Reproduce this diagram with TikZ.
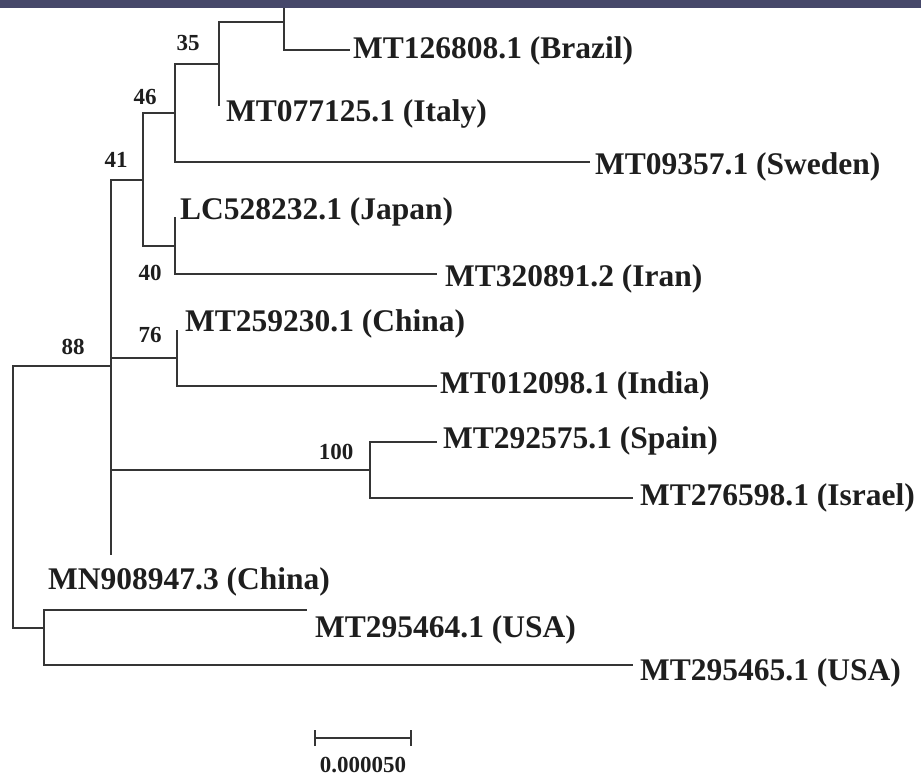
\documentclass[tikz,border=0pt]{standalone}
\usepackage{fontspec}
\setmainfont{Liberation Serif}
\definecolor{topbar}{RGB}{70,72,106}
\definecolor{ink}{RGB}{30,30,30}
\begin{document}
\begin{tikzpicture}[x=1pt,y=-1pt,
  br/.style={line width=2pt, draw=ink!90},
  leaf/.style={anchor=base west, inner sep=0pt, text=ink, font=\fontsize{31.5}{32}\selectfont\bfseries},
  boot/.style={inner sep=0pt, text=ink, font=\fontsize{23}{24}\selectfont\bfseries}]
\useasboundingbox (0,0) rectangle (921,777);
\fill[topbar] (0,0) rectangle (921,8);

% internal nodes (x of own vertical, y of incoming branch)
\coordinate (root) at (13,497);
\coordinate (n88) at (111,366);
\coordinate (nU) at (44,628);
\coordinate (n41) at (143,180);
\coordinate (n46) at (175,113);
\coordinate (n35) at (219,64);
\coordinate (nB) at (284,22);
\coordinate (n40) at (175,246);
\coordinate (n76) at (177,358);
\coordinate (n100) at (370,470);
% branch tips
\coordinate (tTop) at (284,8);
\coordinate (tBrazil) at (350,50);
\coordinate (tItaly) at (219,106);
\coordinate (tSweden) at (590,162);
\coordinate (tJapan) at (175,217);
\coordinate (tIran) at (437,274);
\coordinate (tChina) at (177,330);
\coordinate (tIndia) at (437,386);
\coordinate (tSpain) at (437,442);
\coordinate (tIsrael) at (633,498);
\coordinate (tMN) at (111,555);
\coordinate (tUSA1) at (307,610);
\coordinate (tUSA2) at (633,665);

% leaf labels
\node[leaf] (lBrazil) at (353,58) {MT126808.1 (Brazil)};
\node[leaf] (lItaly) at (226,121) {MT077125.1 (Italy)};
\node[leaf] (lSweden) at (595,174) {MT09357.1 (Sweden)};
\node[leaf] (lJapan) at (180,219) {LC528232.1 (Japan)};
\node[leaf] (lIran) at (445,286) {MT320891.2 (Iran)};
\node[leaf] (lChina) at (185,331) {MT259230.1 (China)};
\node[leaf] (lIndia) at (440,393) {MT012098.1 (India)};
\node[leaf] (lSpain) at (443,448) {MT292575.1 (Spain)};
\node[leaf] (lIsrael) at (640,505) {MT276598.1 (Israel)};
\node[leaf] (lMN) at (48,589) {MN908947.3 (China)};
\node[leaf] (lUSA1) at (315,637) {MT295464.1 (USA)};
\node[leaf] (lUSA2) at (640,680) {MT295465.1 (USA)};

% bootstrap values
\node[boot] (b35) at (188,43) {35};
\node[boot] (b46) at (145,97) {46};
\node[boot] (b41) at (116,160) {41};
\node[boot] (b40) at (150,273) {40};
\node[boot] (b76) at (150,335) {76};
\node[boot] (b88) at (73,347) {88};
\node[boot] (b100) at (336,452) {100};

% branches
\draw[br] (root) |- (n88);
\draw[br] (root) |- (nU);
\draw[br] (n88) |- (n41);
\draw[br] (n88) |- (n76);
\draw[br] (n88) |- (n100);
\draw[br] (n88) -- (tMN);
\draw[br] (n41) |- (n46);
\draw[br] (n41) |- (n40);
\draw[br] (n46) |- (n35);
\draw[br] (n46) |- (tSweden);
\draw[br] (n35) |- (nB);
\draw[br] (n35) -- (tItaly);
\draw[br] (nB) -- (tTop);
\draw[br] (nB) |- (tBrazil);
\draw[br] (n40) -- (tJapan);
\draw[br] (n40) |- (tIran);
\draw[br] (n76) -- (tChina);
\draw[br] (n76) |- (tIndia);
\draw[br] (n100) |- (tSpain);
\draw[br] (n100) |- (tIsrael);
\draw[br] (nU) |- (tUSA1);
\draw[br] (nU) |- (tUSA2);

% scale bar
\coordinate (sbL) at (315,738);
\coordinate (sbR) at (411,738);
\draw[br] (sbL) -- (sbR);
\draw[br] ([yshift=-8pt]sbL) -- ([yshift=8pt]sbL);
\draw[br] ([yshift=-8pt]sbR) -- ([yshift=8pt]sbR);
\node[boot] (sbLabel) at (363,765) {0.000050};
\end{tikzpicture}
\end{document}
